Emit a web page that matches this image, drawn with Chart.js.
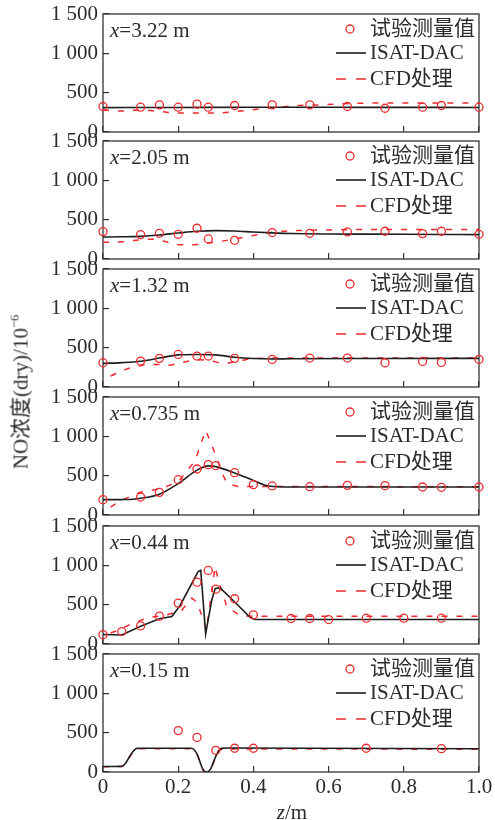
<!DOCTYPE html>
<html>
<head>
<meta charset="utf-8">
<script src="https://cdn.jsdelivr.net/npm/chart.js@4.4.1/dist/chart.umd.min.js"></script>
<style>
    body { margin: 0; background: #fff; }
    #wrap { position: relative; width: 495px; height: 820px; overflow: hidden; }
    #wrap canvas { position: absolute; left: 0; }
    .axisTitle {
        position: absolute;
        font-family: 'Liberation Serif', 'Noto Sans CJK SC', serif;
        font-size: 21px;
        color: #2b2b2b;
        white-space: nowrap;
        line-height: 1;
    }
    #titleY { left: 20px; top: 392px; transform: translate(-50%, -50%) rotate(-90deg); }
    #titleX { left: 292px; top: 812px; transform: translate(-50%, -50%); }
    sup { font-size: 0.6em; vertical-align: 0.7em; }
</style>
</head>
<body>
<div id="wrap">
    <canvas id="p322"></canvas>
    <canvas id="p205"></canvas>
    <canvas id="p132"></canvas>
    <canvas id="p0735"></canvas>
    <canvas id="p044"></canvas>
    <canvas id="p015"></canvas>
    <div class="axisTitle" id="titleY">NO浓度(dry)/10<sup>−6</sup></div>
    <div class="axisTitle" id="titleX"><i>z</i>/m</div>
</div>
<script>
// x = 3.22 m
const zMeas322 = [0, 0.1, 0.15, 0.2, 0.25, 0.28, 0.35, 0.45, 0.55, 0.65, 0.75, 0.85, 0.9, 1.0];
const noMeas322 = [324, 315, 345, 315, 354, 315, 337, 345, 345, 324, 302, 315, 337, 315];
const zIsat322 = [0, 0.2, 0.4, 0.6, 0.8, 1.0];
const noIsat322 = [310, 312, 315, 314, 313, 312];
const zCfd322 = [0, 0.05, 0.1, 0.15, 0.2, 0.25, 0.31, 0.36, 0.42, 0.47, 0.52, 0.58, 0.63, 0.68, 1.0];
const noCfd322 = [281, 266, 281, 260, 243, 243, 243, 264, 294, 315, 337, 345, 358, 366, 370];

// x = 2.05 m
const zMeas205 = [0, 0.1, 0.15, 0.2, 0.25, 0.28, 0.35, 0.45, 0.55, 0.65, 0.75, 0.85, 0.9, 1.0];
const noMeas205 = [348, 310, 327, 314, 391, 255, 238, 336, 327, 344, 353, 323, 353, 314];
const zIsat205 = [0, 0.05, 0.1, 0.15, 0.2, 0.25, 0.3, 0.35, 0.4, 0.45, 0.5, 0.6, 0.7, 0.8, 0.9, 1.0];
const noIsat205 = [280, 282, 288, 305, 330, 352, 361, 356, 343, 332, 324, 318, 316, 314, 312, 310];
const zCfd205 = [0, 0.05, 0.1, 0.13, 0.16, 0.2, 0.25, 0.3, 0.35, 0.4, 0.45, 0.5, 0.6, 0.7, 0.8, 1.0];
const noCfd205 = [212, 218, 245, 252, 228, 180, 185, 215, 255, 300, 340, 358, 370, 374, 374, 374];

// x = 1.32 m
const zMeas132 = [0, 0.1, 0.15, 0.2, 0.25, 0.28, 0.35, 0.45, 0.55, 0.65, 0.75, 0.85, 0.9, 1.0];
const noMeas132 = [309, 330, 364, 414, 393, 393, 364, 351, 368, 368, 308, 325, 313, 351];
const zIsat132 = [0, 0.05, 0.1, 0.15, 0.2, 0.25, 0.3, 0.35, 0.4, 0.45, 0.5, 0.75, 1.0];
const noIsat132 = [300, 310, 328, 368, 408, 414, 408, 378, 362, 356, 360, 362, 364];
const zCfd132 = [0.02, 0.06, 0.09, 0.12, 0.15, 0.17, 0.2, 0.23, 0.26, 0.29, 0.32, 0.36, 0.4, 0.45, 1.0];
const noCfd132 = [139, 224, 262, 285, 285, 275, 300, 330, 345, 330, 300, 330, 360, 368, 368];

// x = 0.735 m
const zMeas0735 = [0, 0.1, 0.15, 0.2, 0.25, 0.28, 0.3, 0.35, 0.4, 0.45, 0.55, 0.65, 0.75, 0.85, 0.9, 1.0];
const noMeas0735 = [195, 229, 288, 449, 585, 640, 627, 538, 386, 369, 360, 377, 373, 356, 352, 356];
const zIsat0735 = [0, 0.05, 0.08, 0.1, 0.15, 0.2, 0.25, 0.28, 0.3, 0.35, 0.4, 0.44, 0.5, 1.0];
const noIsat0735 = [195, 196, 200, 212, 265, 400, 570, 625, 615, 534, 440, 368, 356, 356];
const zCfd0735 = [0.02, 0.05, 0.1, 0.15, 0.2, 0.245, 0.273, 0.3, 0.317, 0.33, 0.36, 1.0];
const noCfd0735 = [100, 190, 290, 330, 420, 690, 1076, 760, 530, 400, 362, 360];

// x = 0.44 m
const zMeas044 = [0, 0.05, 0.1, 0.15, 0.2, 0.25, 0.28, 0.3, 0.35, 0.4, 0.5, 0.55, 0.6, 0.7, 0.8, 0.9];
const noMeas044 = [119, 158, 230, 354, 520, 786, 935, 697, 575, 371, 324, 324, 311, 328, 328, 328];
const zIsat044 = [0, 0.05, 0.1, 0.15, 0.183, 0.205, 0.253, 0.26, 0.273, 0.289, 0.298, 0.311, 0.355, 0.391, 0.404, 1.0];
const noIsat044 = [120, 115, 225, 320, 349, 490, 920, 937, 128, 554, 703, 716, 511, 340, 311, 311];
const zCfd044 = [0.02, 0.04, 0.075, 0.12, 0.165, 0.209, 0.236, 0.25, 0.265, 0.275, 0.285, 0.298, 0.307, 0.33, 0.364, 0.4, 1.0];
const noCfd044 = [140, 175, 255, 335, 365, 426, 583, 530, 330, 180, 520, 985, 810, 468, 362, 352, 352];

// x = 0.15 m
const zMeas015 = [0.2, 0.25, 0.3, 0.35, 0.4, 0.7, 0.9];
const noMeas015 = [526, 440, 276, 302, 302, 302, 297];
const zIsat015 = [0, 0.05, 0.06, 0.075, 0.09, 0.1, 0.235, 0.25, 0.265, 0.275, 0.285, 0.3, 0.315, 0.33, 1.0];
const noIsat015 = [70, 72, 110, 230, 300, 302, 302, 230, 40, 0, 30, 200, 300, 305, 295];
const zCfd015 = [0, 0.05, 0.06, 0.075, 0.09, 0.1, 0.235, 0.25, 0.265, 0.275, 0.285, 0.3, 0.31, 0.33, 1.0];
const noCfd015 = [68, 70, 105, 220, 292, 295, 295, 220, 30, 0, 20, 190, 285, 292, 290];

const seriesNames = ['试验测量值', 'ISAT-DAC', 'CFD处理'];

const colors = {
    red: '#ee2a2e',
    black: '#1e1e1e',
    axis: '#333333',
    text: '#2b2b2b'
};
const fontFamily = "'Liberation Serif', 'Noto Sans CJK SC', serif";

function toPoints(zs, vals) {
    return zs.map((z, i) => ({ x: z, y: vals[i] }));
}

// frame around each panel + the x=... label and the legend block
const panelBox = {
    id: 'panelBox',
    beforeDatasetsDraw(chart) {
        const { ctx, chartArea: a } = chart;
        ctx.save();
        ctx.strokeStyle = colors.axis;
        ctx.lineWidth = 1.3;
        ctx.strokeRect(a.left, a.top, a.right - a.left, a.bottom - a.top);
        ctx.restore();
    },
    afterDraw(chart, args, opts) {
        const { ctx, chartArea: a } = chart;
        ctx.save();
        ctx.fillStyle = colors.text;
        ctx.textBaseline = 'middle';
        ctx.textAlign = 'left';

        // panel label, italic x
        const ly = a.top + 17;
        ctx.font = 'italic 21px ' + fontFamily;
        ctx.fillText('x', a.left + 7, ly);
        const w = ctx.measureText('x').width;
        ctx.font = '21px ' + fontFamily;
        ctx.fillText('=' + opts.label + ' m', a.left + 7 + w, ly);

        // legend
        const rows = [a.top + 15, a.top + 39, a.top + 65];
        const textX = 370;
        ctx.font = '21px ' + fontFamily;
        seriesNames.forEach((name, i) => ctx.fillText(name, textX, rows[i]));

        ctx.strokeStyle = colors.red;
        ctx.lineWidth = 1.3;
        ctx.beginPath();
        ctx.arc(350, rows[0], 4, 0, Math.PI * 2);
        ctx.stroke();

        ctx.strokeStyle = colors.black;
        ctx.lineWidth = 1.6;
        ctx.beginPath();
        ctx.moveTo(336, rows[1]);
        ctx.lineTo(366, rows[1]);
        ctx.stroke();

        ctx.strokeStyle = colors.red;
        ctx.lineWidth = 1.5;
        ctx.setLineDash([10, 10]);
        ctx.beginPath();
        ctx.moveTo(336, rows[2]);
        ctx.lineTo(366, rows[2]);
        ctx.stroke();
        ctx.restore();
    }
};

function yTickLabel(v) {
    if (v >= 1000) return Math.floor(v / 1000) + ' ' + String(v % 1000).padStart(3, '0');
    return String(v);
}

function buildPanel(id, panelTop, isBottom, label, meas, isat, cfd, isatSmooth, cfdSmooth) {
    const canvas = document.getElementById(id);
    const padTop = 12;
    const xHeight = isBottom ? 36 : 0;
    const padBottom = isBottom ? 0 : 12;
    canvas.width = 495;
    canvas.height = padTop + 118 + xHeight + padBottom;
    canvas.style.top = (panelTop - padTop) + 'px';

    const tickFont = { family: fontFamily, size: 21 };
    const gridOpts = {
        drawOnChartArea: false,
        drawTicks: true,
        tickLength: -6,
        color: colors.axis,
        lineWidth: 1.2
    };

    return new Chart(canvas.getContext('2d'), {
        type: 'line',
        data: {
            datasets: [{
                label: seriesNames[0],
                data: toPoints(meas[0], meas[1]),
                showLine: false,
                pointStyle: 'circle',
                pointRadius: 4,
                pointBorderWidth: 1.3,
                pointBorderColor: colors.red,
                pointBackgroundColor: 'rgba(0,0,0,0)',
                clip: false
            }, {
                label: seriesNames[1],
                data: toPoints(isat[0], isat[1]),
                borderColor: colors.black,
                borderWidth: 1.6,
                pointRadius: 0,
                cubicInterpolationMode: isatSmooth ? 'monotone' : 'default',
                tension: 0
            }, {
                label: seriesNames[2],
                data: toPoints(cfd[0], cfd[1]),
                borderColor: colors.red,
                borderWidth: 1.5,
                borderDash: [6, 9],
                pointRadius: 0,
                cubicInterpolationMode: cfdSmooth ? 'monotone' : 'default',
                tension: 0
            }]
        },
        options: {
            responsive: false,
            animation: false,
            events: [],
            layout: { padding: { top: padTop, right: 16, bottom: padBottom, left: 0 } },
            plugins: {
                legend: { display: false },
                tooltip: { enabled: false },
                panelBox: { label: label }
            },
            scales: {
                x: {
                    type: 'linear',
                    min: 0,
                    max: 1,
                    border: { display: false },
                    grid: gridOpts,
                    ticks: {
                        display: isBottom,
                        stepSize: 0.2,
                        padding: 9,
                        color: colors.text,
                        font: tickFont,
                        maxRotation: 0,
                        callback: v => v === 0 ? '0' : v.toFixed(1)
                    },
                    afterFit: s => {
                        s.height = xHeight;
                        s.paddingLeft = 0;
                        s.paddingRight = 0;
                    }
                },
                y: {
                    min: 0,
                    max: 1500,
                    border: { display: false },
                    grid: gridOpts,
                    ticks: {
                        stepSize: 500,
                        padding: 11,
                        color: colors.text,
                        font: tickFont,
                        callback: yTickLabel
                    },
                    afterFit: s => {
                        s.width = 103;
                        s.paddingTop = 0;
                        s.paddingBottom = 0;
                    }
                }
            }
        },
        plugins: [panelBox]
    });
}

buildPanel('p322', 14, false, '3.22',
    [zMeas322, noMeas322], [zIsat322, noIsat322], [zCfd322, noCfd322], true, true);
buildPanel('p205', 141, false, '2.05',
    [zMeas205, noMeas205], [zIsat205, noIsat205], [zCfd205, noCfd205], true, true);
buildPanel('p132', 269, false, '1.32',
    [zMeas132, noMeas132], [zIsat132, noIsat132], [zCfd132, noCfd132], true, true);
buildPanel('p0735', 397, false, '0.735',
    [zMeas0735, noMeas0735], [zIsat0735, noIsat0735], [zCfd0735, noCfd0735], true, false);
buildPanel('p044', 526, false, '0.44',
    [zMeas044, noMeas044], [zIsat044, noIsat044], [zCfd044, noCfd044], false, false);
buildPanel('p015', 654, true, '0.15',
    [zMeas015, noMeas015], [zIsat015, noIsat015], [zCfd015, noCfd015], true, true);
</script>
</body>
</html>
